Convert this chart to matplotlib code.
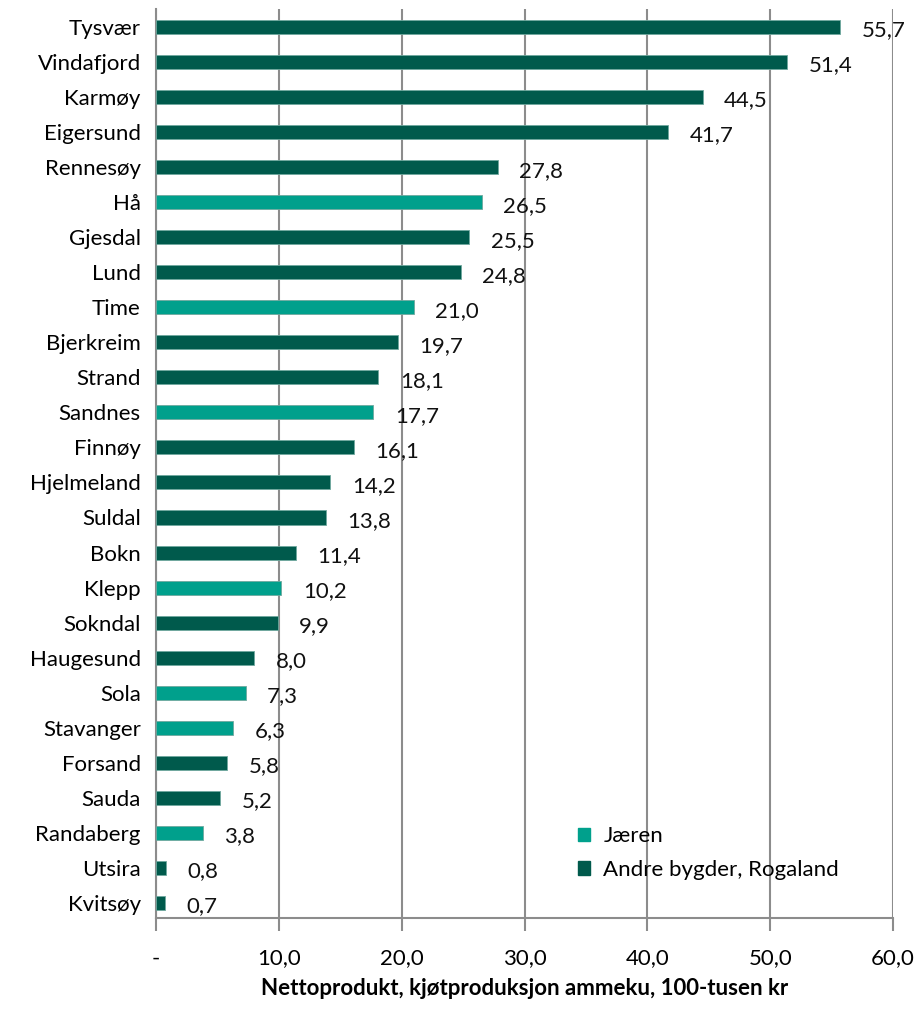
import numpy as np
import matplotlib.pyplot as plt
from matplotlib.patches import Patch

plt.rcParams['font.family'] = ['Lato', 'DejaVu Sans']

# Data
kommuner = ['Tysvær', 'Vindafjord', 'Karmøy', 'Eigersund', 'Rennesøy', 'Hå', 'Gjesdal', 'Lund',
            'Time', 'Bjerkreim', 'Strand', 'Sandnes', 'Finnøy', 'Hjelmeland', 'Suldal', 'Bokn',
            'Klepp', 'Sokndal', 'Haugesund', 'Sola', 'Stavanger', 'Forsand', 'Sauda', 'Randaberg',
            'Utsira', 'Kvitsøy']
verdi = [55.7, 51.4, 44.5, 41.7, 27.8, 26.5, 25.5, 24.8, 21.0, 19.7, 18.1, 17.7, 16.1, 14.2,
         13.8, 11.4, 10.2, 9.9, 8.0, 7.3, 6.3, 5.8, 5.2, 3.8, 0.8, 0.7]
jaeren = ['Hå', 'Time', 'Sandnes', 'Klepp', 'Sola', 'Stavanger', 'Randaberg']
xticks = [0, 10, 20, 30, 40, 50, 60]
xticklabels = ['-', '10,0', '20,0', '30,0', '40,0', '50,0', '60,0']

light = '#00A08C'
dark = '#005A4C'
grid_c = '#8C8C8C'

fig = plt.figure(figsize=(9.2, 10.1), dpi=100)
ax = fig.add_axes([0.1696, 0.0911, 0.8011, 0.8999])

y = np.arange(len(kommuner))
colors = [light if k in jaeren else dark for k in kommuner]
ax.barh(y, verdi, height=0.4, color=colors, edgecolor='#6FA89E', linewidth=0.6, zorder=3)

for yi, v in zip(y, verdi):
    ax.text(v + 1.75, yi + 0.1, f'{v:.1f}'.replace('.', ','), va='center', ha='left',
            fontsize=16, color='#111111', zorder=4)

ax.set_xlim(0, 60)
ax.set_ylim(len(kommuner) - 0.57, -0.51)
ax.set_yticks(y)
ax.set_yticklabels(kommuner, fontsize=16)
ax.set_xticks(xticks)
ax.set_xticklabels(xticklabels, fontsize=16)
ax.tick_params(axis='y', length=0, pad=11)
ax.tick_params(axis='x', length=9, width=1.5, color=grid_c, pad=13)
ax.grid(axis='x', color=grid_c, linewidth=1.5, zorder=0)
for s in ['top', 'right']:
    ax.spines[s].set_visible(False)
for s in ['left', 'bottom']:
    ax.spines[s].set_color(grid_c)
    ax.spines[s].set_linewidth(1.5)

ax.set_xlabel('Nettoprodukt, kjøtproduksjon ammeku, 100-tusen kr', fontsize=16,
              fontweight='bold', labelpad=7)

handles = [Patch(color=light, label='Jæren'), Patch(color=dark, label='Andre bygder, Rogaland')]
ax.legend(handles=handles, loc='lower left', bbox_to_anchor=(0.545, 0.02), frameon=False,
          fontsize=16, handlelength=0.55, handleheight=0.55, handletextpad=0.6, labelspacing=0.6)

fig.savefig('out.png', dpi=100)
